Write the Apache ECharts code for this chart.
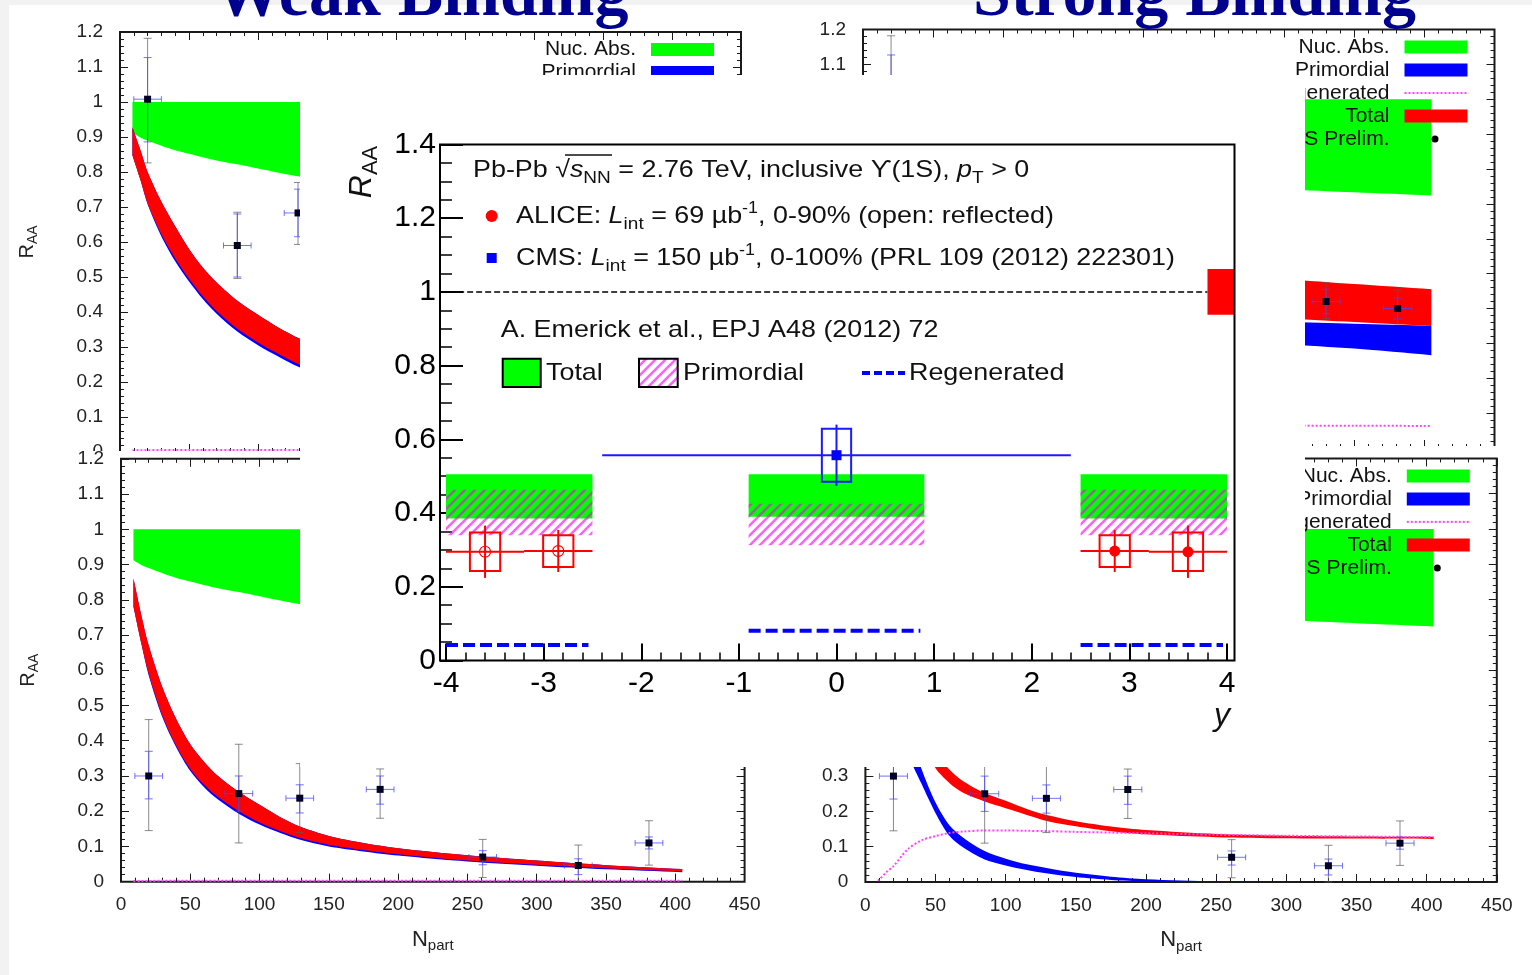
<!DOCTYPE html>
<html>
<head>
<meta charset="utf-8">
<title>Upsilon R_AA</title>
<script src="https://cdn.jsdelivr.net/npm/echarts@6.0.0/dist/echarts.min.js"></script>
<style>
  html, body { margin:0; padding:0; }
  body { width:1532px; height:975px; background:#f2f2f2; position:relative; overflow:hidden; }
  .pane { position:absolute; background:#ffffff; }
</style>
</head>
<body>
<div id="tl" class="pane" style="left:9px;top:5px;width:741px;height:446px;"></div>
<div id="tr" class="pane" style="left:750px;top:5px;width:782px;height:441px;"></div>
<div id="bl" class="pane" style="left:9px;top:451px;width:761px;height:524px;"></div>
<div id="br" class="pane" style="left:770px;top:446px;width:762px;height:529px;"></div>
<div id="ttl" style="position:absolute;left:0;top:0;width:1532px;height:40px;"></div>
<div id="inset" class="pane" style="left:300px;top:75px;width:1005px;height:692px;"></div>
<script>
const FONT = '"Liberation Sans", Arial, Helvetica, sans-serif';
const SERIF = '"Liberation Serif", "Times New Roman", serif';

// ================= DATA: background panels (R_AA vs N_part) =================
const nRange = [0, 450];
const nStep = 50;
const raaRange = [0, 1.2];
const raaStep = 0.1;

const nGrid = [9, 15, 20, 30, 40, 50, 60, 70, 85, 100, 115, 130, 150, 175, 200, 250, 300, 350, 405];
const nucAbsLo = [0.912, 0.898, 0.89, 0.875, 0.862, 0.852, 0.842, 0.833, 0.822, 0.81, 0.798, 0.787, 0.78, 0.772, 0.765, 0.752, 0.742, 0.733, 0.724];
const nucAbsHi = [1, 1, 1, 1, 1, 1, 1, 1, 1, 1, 1, 1, 1, 1, 1, 1, 1, 1, 1];

// weak binding, upper panel
const weak1TotHi = [0.928, 0.86, 0.80, 0.715, 0.645, 0.58, 0.527, 0.484, 0.432, 0.392, 0.355, 0.324, 0.29, 0.26, 0.235, 0.195, 0.165, 0.145, 0.125];
const weak1TotLo = [0.848, 0.775, 0.71, 0.622, 0.553, 0.495, 0.445, 0.403, 0.352, 0.313, 0.28, 0.25, 0.22, 0.19, 0.17, 0.14, 0.12, 0.105, 0.09];
const weak1PrimLo = [0.848, 0.775, 0.708, 0.616, 0.545, 0.487, 0.437, 0.395, 0.344, 0.305, 0.272, 0.242, 0.212, 0.183, 0.163, 0.134, 0.114, 0.1, 0.085];
const weak1Regen = [0.004, 0.005, 0.005, 0.006, 0.006, 0.006, 0.006, 0.006, 0.006, 0.006, 0.006, 0.006, 0.006, 0.006, 0.006, 0.006, 0.006, 0.006, 0.006];

// weak binding, lower panel
const weak2TotHi = [0.86, 0.75, 0.67, 0.55, 0.46, 0.39, 0.34, 0.30, 0.255, 0.218, 0.183, 0.155, 0.13, 0.11, 0.095, 0.075, 0.06, 0.047, 0.036];
const weak2TotLo = [0.78, 0.67, 0.59, 0.47, 0.385, 0.32, 0.275, 0.24, 0.20, 0.168, 0.143, 0.123, 0.105, 0.09, 0.078, 0.06, 0.048, 0.038, 0.029];
const weak2PrimLo = [0.78, 0.67, 0.585, 0.465, 0.38, 0.314, 0.268, 0.233, 0.193, 0.162, 0.138, 0.118, 0.1, 0.086, 0.074, 0.057, 0.045, 0.035, 0.027];
const weak2Regen = [0.002, 0.002, 0.002, 0.003, 0.003, 0.003, 0.003, 0.003, 0.003, 0.003, 0.003, 0.003, 0.003, 0.003, 0.003, 0.003, 0.003, 0.003, 0.003];

// strong binding, upper panel
const strong1TotHi = [0.94, 0.88, 0.84, 0.76, 0.70, 0.66, 0.62, 0.60, 0.575, 0.555, 0.54, 0.53, 0.52, 0.51, 0.503, 0.492, 0.484, 0.47, 0.455];
const strong1TotLo = [0.86, 0.79, 0.74, 0.66, 0.60, 0.55, 0.515, 0.49, 0.465, 0.445, 0.43, 0.42, 0.41, 0.40, 0.393, 0.38, 0.371, 0.361, 0.35];
const strong1PrimHi = [0.93, 0.86, 0.80, 0.70, 0.63, 0.58, 0.54, 0.51, 0.475, 0.45, 0.43, 0.415, 0.40, 0.39, 0.38, 0.37, 0.362, 0.356, 0.35];
const strong1PrimLo = [0.86, 0.77, 0.71, 0.61, 0.54, 0.49, 0.45, 0.42, 0.39, 0.365, 0.35, 0.335, 0.325, 0.315, 0.31, 0.303, 0.297, 0.285, 0.266];
const strong1Regen = [0.0, 0.015, 0.025, 0.04, 0.05, 0.057, 0.06, 0.062, 0.064, 0.065, 0.066, 0.066, 0.066, 0.065, 0.065, 0.064, 0.064, 0.064, 0.063];

// strong binding, lower panel
const strong2TotHi = [0.95, 0.86, 0.78, 0.60, 0.47, 0.375, 0.318, 0.285, 0.252, 0.23, 0.207, 0.189, 0.172, 0.157, 0.147, 0.136, 0.131, 0.129, 0.128];
const strong2TotLo = [0.88, 0.77, 0.69, 0.52, 0.40, 0.322, 0.28, 0.252, 0.228, 0.209, 0.19, 0.172, 0.158, 0.144, 0.135, 0.127, 0.124, 0.123, 0.122];
const strong2PrimHi = [0.93, 0.75, 0.64, 0.44, 0.32, 0.225, 0.16, 0.125, 0.088, 0.066, 0.05, 0.039, 0.026, 0.015, 0.008, 0.002, 0, 0, 0];
const strong2PrimLo = [0.86, 0.66, 0.55, 0.37, 0.278, 0.195, 0.13, 0.097, 0.064, 0.047, 0.034, 0.024, 0.014, 0.006, 0.002, 0, 0, 0, 0];
const strong2Regen = [0.003, 0.028, 0.045, 0.092, 0.118, 0.13, 0.139, 0.143, 0.146, 0.146, 0.145, 0.144, 0.142, 0.14, 0.138, 0.134, 0.131, 0.129, 0.127];

// CMS preliminary points
const ptN = [20, 85, 129, 187, 261, 330, 381];
const ptNErr = [10, 10, 10, 10, 10, 10, 10];
const up1R = [1.008, 0.59, 0.683, 0.60, 0.50, 0.42, 0.40];
const up1StatLo = [0.886, 0.50, 0.615, 0.54, 0.45, 0.385, 0.37];
const up1StatHi = [1.127, 0.68, 0.751, 0.66, 0.55, 0.455, 0.43];
const up1SysLo = [0.826, 0.496, 0.593, 0.50, 0.41, 0.371, 0.356];
const up1SysHi = [1.182, 0.685, 0.77, 0.70, 0.59, 0.474, 0.453];
const low2R = [0.30, 0.25, 0.237, 0.262, 0.07, 0.046, 0.11];
const low2StatLo = [0.235, 0.20, 0.195, 0.22, 0.048, 0.02, 0.093];
const low2StatHi = [0.37, 0.30, 0.275, 0.30, 0.088, 0.065, 0.127];
const low2SysLo = [0.145, 0.11, 0.14, 0.18, 0.012, 0.0, 0.047];
const low2SysHi = [0.46, 0.39, 0.335, 0.32, 0.12, 0.104, 0.173];

const legendLabels = ['Nuc. Abs.', 'Primordial', 'Regenerated', 'Total', 'CMS Prelim.'];

// ================= DATA: inset (R_AA vs y) =================
const yRange = [-4, 4];
const raaInsetRange = [0, 1.4];
const binLo = [-4.0, -0.9, 2.5];
const binHi = [-2.5, 0.9, 4.0];
const modTotLo = [0.385, 0.39, 0.385];
const modTotHi = [0.505, 0.505, 0.505];
const modPrimLo = [0.34, 0.313, 0.34];
const modPrimHi = [0.463, 0.425, 0.463];
const modRegen = [0.042, 0.081, 0.042];
const aliceY = [-3.6, -2.85, 2.85, 3.6];
const aliceYLo = [-4.0, -3.2, 2.5, 3.2];
const aliceYHi = [-3.2, -2.5, 3.2, 4.0];
const aliceR = [0.295, 0.297, 0.297, 0.295];
const aliceStat = [0.071, 0.057, 0.057, 0.071];
const aliceSyst = [0.052, 0.043, 0.043, 0.052];
const aliceReflected = [1, 1, 0, 0];
const cmsY = [0];
const cmsYErr = [2.4];
const cmsR = [0.557];
const cmsStat = [0.083];
const cmsSyst = [0.072];
const globalUnc = [0.062];

// ================= helpers =================
const AX = '#1a1a1a';
function bandSeries(lo, hi, color) {
  return {
    type: 'custom', silent: true, z: 2,
    data: [[nGrid[0], lo[0]]],
    renderItem: (params, api) => {
      const last = nGrid.length - 1;
      const pts = [];
      pts.push(api.coord([nGrid[0], hi[0]]));
      for (let i = 0; i <= last; i++) pts.push(api.coord([nGrid[i], hi[i]]));
      pts.push(api.coord([nGrid[last], hi[last]]));
      pts.push(api.coord([nGrid[last], lo[last]]));
      for (let i = last; i >= 0; i--) pts.push(api.coord([nGrid[i], lo[i]]));
      pts.push(api.coord([nGrid[0], lo[0]]));
      return { type: 'polygon', shape: { points: pts, smooth: 0.3 }, style: { fill: color } };
    }
  };
}
function seg(x1, y1, x2, y2, st) {
  return { type: 'line', shape: { x1, y1, x2, y2 }, style: st };
}
function pointSeries(R, sysLo, sysHi, stLo, stHi) {
  return {
    type: 'custom', silent: true, z: 6,
    data: ptN.map((n, i) => [n, R[i], sysLo[i], sysHi[i], stLo[i], stHi[i], ptNErr[i]]),
    renderItem: (params, api) => {
      const n = api.value(0), r = api.value(1);
      const c = api.coord([n, r]);
      const a = api.coord([n, api.value(2)]), b = api.coord([n, api.value(3)]);
      const s1 = api.coord([n, api.value(4)]), s2 = api.coord([n, api.value(5)]);
      const xl = api.coord([n - api.value(6), r]), xr = api.coord([n + api.value(6), r]);
      const gray = { stroke: 'rgba(90,90,90,0.7)', lineWidth: 1 };
      const blue = { stroke: 'rgba(70,70,255,0.75)', lineWidth: 1 };
      return { type: 'group', children: [
        seg(c[0], a[1], c[0], b[1], gray),
        seg(c[0] - 4, a[1], c[0] + 4, a[1], gray),
        seg(c[0] - 4, b[1], c[0] + 4, b[1], gray),
        seg(c[0], s1[1], c[0], s2[1], blue),
        seg(c[0] - 4, s1[1], c[0] + 4, s1[1], blue),
        seg(c[0] - 4, s2[1], c[0] + 4, s2[1], blue),
        seg(xl[0], c[1], xr[0], c[1], blue),
        seg(xl[0], c[1] - 3, xl[0], c[1] + 3, blue),
        seg(xr[0], c[1] - 3, xr[0], c[1] + 3, blue),
        { type: 'rect', shape: { x: c[0] - 3.5, y: c[1] - 3.5, width: 7, height: 7 }, style: { fill: '#000022' } }
      ] };
    }
  };
}
function axisPair(isX, showLabels) {
  const base = {
    type: 'value',
    min: isX ? nRange[0] : raaRange[0], max: isX ? nRange[1] : raaRange[1],
    interval: isX ? nStep : raaStep,
    axisLine: { show: false, onZero: false },
    axisTick: { show: true, inside: true, length: 8, lineStyle: { color: AX, width: 1 } },
    minorTick: { show: true, splitNumber: 5, length: 4, lineStyle: { color: AX, width: 1 } },
    splitLine: { show: false }, minorSplitLine: { show: false }
  };
  const a = Object.assign({}, base, {
    position: isX ? 'bottom' : 'left',
    axisLabel: { show: showLabels, fontSize: 19, fontFamily: FONT, color: '#222', margin: isX ? 14 : 17,
      formatter: v => String(+v.toFixed(1)) }
  });
  const b = Object.assign({}, base, { position: isX ? 'top' : 'right', axisLabel: { show: false } });
  return [a, b];
}
function richTitle(main, subTxt, f, fs, pad) {
  return {
    text: '{m|' + main + '}{s|' + subTxt + '}',
    rich: { m: { fontSize: f, fontFamily: FONT, fill: '#222' }, s: { fontSize: fs, fontFamily: FONT, fill: '#222', padding: [pad, 0, 0, 0] } },
    align: 'center', verticalAlign: 'middle'
  };
}
function panelOption(g, tot, prim, regen, pts) {
  const right = g.left + g.width, top = g.top;
  const legendEls = [];
  legendLabels.forEach((lab, i) => {
    const cy = top + 17.5 + i * 23;
    legendEls.push({ type: 'text', x: right - 105, y: cy, z: 100, style: { text: lab, fontSize: 21, fontFamily: FONT, fill: '#111', align: 'right', verticalAlign: 'middle' } });
    if (i === 0 || i === 1 || i === 3) {
      legendEls.push({ type: 'rect', z: 100, shape: { x: right - 90, y: cy - 6.5, width: 63, height: 13 }, style: { fill: ['#00ff00', '#0000ff', '', '#ff0000'][i] } });
    } else if (i === 2) {
      legendEls.push({ type: 'line', z: 100, shape: { x1: right - 90, y1: cy, x2: right - 27, y2: cy }, style: { stroke: '#ff44ff', lineWidth: 2, lineDash: [2, 2] } });
    } else {
      legendEls.push({ type: 'circle', z: 100, shape: { cx: right - 59.5, cy: cy, r: 3.5 }, style: { fill: '#000' } });
    }
  });
  legendEls.push({ type: 'text', x: g.left - 93, y: g.top + g.height / 2, rotation: Math.PI / 2, z: 100, style: richTitle('R', 'AA', 20, 14, 12) });
  legendEls.push({ type: 'text', x: g.left + g.width / 2, y: g.top + g.height + 58, z: 100, style: richTitle('N', 'part', 22, 15, 13) });
  const xa = axisPair(true, true), ya = axisPair(false, true);
  return {
    animation: false,
    grid: { left: g.left, top: g.top, width: g.width, height: g.height, show: true, borderColor: AX, borderWidth: 2, backgroundColor: 'transparent', outerBoundsMode: 'none' },
    xAxis: xa, yAxis: ya,
    series: [
      bandSeries(nucAbsLo, nucAbsHi, '#00ff00'),
      bandSeries(prim[0], prim[1], '#0000ff'),
      bandSeries(tot[0], tot[1], '#ff0000'),
      { type: 'line', silent: true, z: 4, symbol: 'none', smooth: 0.3, data: nGrid.map((n, i) => [n, regen[i]]),
        lineStyle: { color: '#ff44ff', width: 2, type: [2, 2] } },
      pointSeries(pts[0], pts[1], pts[2], pts[3], pts[4])
    ],
    graphic: legendEls
  };
}

// ================= background panels =================
echarts.init(document.getElementById('tl')).setOption(panelOption(
  { left: 111, top: 27, width: 621, height: 420 },
  [weak1TotLo, weak1TotHi], [weak1PrimLo, weak1TotHi], weak1Regen,
  [up1R, up1SysLo, up1SysHi, up1StatLo, up1StatHi]));
echarts.init(document.getElementById('tr')).setOption(panelOption(
  { left: 113, top: 24.5, width: 631.5, height: 418.5 },
  [strong1TotLo, strong1TotHi], [strong1PrimLo, strong1PrimHi], strong1Regen,
  [up1R, up1SysLo, up1SysHi, up1StatLo, up1StatHi]));
echarts.init(document.getElementById('bl')).setOption(panelOption(
  { left: 112, top: 7.8, width: 623.6, height: 422.9 },
  [weak2TotLo, weak2TotHi], [weak2PrimLo, weak2TotHi], weak2Regen,
  [low2R, low2SysLo, low2SysHi, low2StatLo, low2StatHi]));
echarts.init(document.getElementById('br')).setOption(panelOption(
  { left: 95.4, top: 12.4, width: 631.4, height: 423.6 },
  [strong2TotLo, strong2TotHi], [strong2PrimLo, strong2PrimHi], strong2Regen,
  [low2R, low2SysLo, low2SysHi, low2StatLo, low2StatHi]));

// ================= titles =================
echarts.init(document.getElementById('ttl')).setOption({
  animation: false,
  graphic: [
    { type: 'text', x: 421.5, y: -3, style: { text: 'Weak Binding', fontSize: 68, fontWeight: 'bold', fontFamily: SERIF, fill: '#00008f', align: 'center', verticalAlign: 'middle' } },
    { type: 'text', x: 1194.5, y: -3, style: { text: 'Strong Binding', fontSize: 68, fontWeight: 'bold', fontFamily: SERIF, fill: '#00008f', align: 'center', verticalAlign: 'middle' } }
  ]
});

// ================= inset =================
function makeHatch() {
  const c = document.createElement('canvas');
  c.width = 10; c.height = 10;
  const g = c.getContext('2d');
  g.strokeStyle = 'rgba(255,0,255,0.62)';
  g.lineWidth = 2.6;
  g.beginPath();
  g.moveTo(-2, 12); g.lineTo(12, -2);
  g.moveTo(-2, 2); g.lineTo(2, -2);
  g.moveTo(8, 12); g.lineTo(12, 8);
  g.stroke();
  return c;
}
const hatch = { image: makeHatch(), repeat: 'repeat' };

function binRect(colorStyle) {
  return (params, api) => {
    const a = api.coord([api.value(0), api.value(3)]);
    const b = api.coord([api.value(1), api.value(2)]);
    return { type: 'rect', shape: { x: a[0], y: a[1], width: b[0] - a[0], height: b[1] - a[1] }, style: colorStyle };
  };
}
const RED = '#ff0000', BLUE = '#0000ff';
const TXT = 24;
const SX = 1.12;
const rich = {
  n: { fontSize: TXT, fontFamily: FONT, fill: '#111' },
  i: { fontSize: TXT, fontFamily: FONT, fontStyle: 'italic', fill: '#111' },
  s: { fontSize: 17, fontFamily: FONT, fill: '#111', padding: [16, 0, 0, 0] },
  p: { fontSize: 16, fontFamily: FONT, fill: '#111', padding: [0, 0, 14, 0] }
};

const inset = echarts.init(document.getElementById('inset'));
inset.setOption({
  animation: false,
  grid: { left: 146, top: 69.5, width: 781, height: 516, outerBoundsMode: 'none' },
  xAxis: {
    type: 'value', min: yRange[0], max: yRange[1], interval: 1,
    axisLine: { show: false, onZero: false },
    axisTick: { show: true, inside: true, length: 17, lineStyle: { color: '#000', width: 2 } },
    minorTick: { show: true, splitNumber: 5, length: 8, lineStyle: { color: '#000', width: 1.5 } },
    splitLine: { show: false },
    axisLabel: { fontSize: 30, fontFamily: FONT, color: '#000', margin: 8 }
  },
  yAxis: {
    type: 'value', min: raaInsetRange[0], max: raaInsetRange[1], interval: 0.2, offset: 6,
    axisLine: { show: false, onZero: false },
    axisTick: { show: true, inside: true, length: 23, lineStyle: { color: '#000', width: 2 } },
    minorTick: { show: true, splitNumber: 4, length: 12, lineStyle: { color: '#000', width: 1.5 } },
    splitLine: { show: false },
    axisLabel: { fontSize: 30, fontFamily: FONT, color: '#000', margin: 4, formatter: v => String(+v.toFixed(1)) }
  },
  series: [
    { type: 'custom', name: 'Total', silent: true, z: 2, encode: { x: [0, 1], y: [2, 3] },
      data: binLo.map((b, i) => [b, binHi[i], modTotLo[i], modTotHi[i]]),
      renderItem: binRect({ fill: '#00ff00' }) },
    { type: 'custom', name: 'Primordial', silent: true, z: 3, encode: { x: [0, 1], y: [2, 3] },
      data: binLo.map((b, i) => [b, binHi[i], modPrimLo[i], modPrimHi[i]]),
      renderItem: binRect({ fill: hatch }) },
    { type: 'custom', name: 'Regenerated', silent: true, z: 4, encode: { x: [0, 1], y: 2 },
      data: binLo.map((b, i) => [b, binHi[i], modRegen[i]]),
      renderItem: (params, api) => {
        const a = api.coord([api.value(0), api.value(2)]), b = api.coord([api.value(1), api.value(2)]);
        return seg(a[0], a[1], b[0] - 4, b[1], { stroke: BLUE, lineWidth: 4, lineDash: [12, 5] });
      } },
    { type: 'custom', silent: true, z: 4, encode: { x: [0, 1], y: 2 },
      data: [[-4.06, 3.8, 1]],
      renderItem: (params, api) => {
        const a = api.coord([api.value(0), api.value(2)]), b = api.coord([api.value(1), api.value(2)]);
        return seg(a[0], a[1], b[0], b[1], { stroke: '#000', lineWidth: 1.5, lineDash: [6, 3] });
      } },
    { type: 'custom', silent: true, z: 4, encode: { x: 0, y: 1 },
      data: [[3.8, 1, globalUnc[0]]],
      renderItem: (params, api) => {
        const a = api.coord([api.value(0), api.value(1) + api.value(2)]);
        const b = api.coord([4.08, api.value(1) - api.value(2)]);
        return { type: 'rect', shape: { x: a[0], y: a[1], width: b[0] - a[0], height: b[1] - a[1] }, style: { fill: RED } };
      } },
    { type: 'custom', name: 'CMS', silent: true, z: 6, encode: { x: 0, y: 1 },
      data: cmsY.map((y, i) => [y, cmsR[i], cmsYErr[i], cmsStat[i], cmsSyst[i]]),
      renderItem: (params, api) => {
        const y = api.value(0), r = api.value(1);
        const c = api.coord([y, r]);
        const l = api.coord([y - api.value(2), r]), h = api.coord([y + api.value(2), r]);
        const s1 = api.coord([y, r + api.value(3)]), s2 = api.coord([y, r - api.value(3)]);
        const b1 = api.coord([y - 0.15, r + api.value(4)]), b2 = api.coord([y + 0.15, r - api.value(4)]);
        const st = { stroke: '#1a1aff', lineWidth: 2 };
        return { type: 'group', children: [
          seg(l[0], c[1], h[0], c[1], st),
          seg(c[0], s1[1], c[0], s2[1], st),
          { type: 'rect', shape: { x: b1[0], y: b1[1], width: b2[0] - b1[0], height: b2[1] - b1[1] }, style: { fill: 'none', stroke: '#1a1aff', lineWidth: 2 } },
          { type: 'rect', shape: { x: c[0] - 5, y: c[1] - 5, width: 10, height: 10 }, style: { fill: BLUE } }
        ] };
      } },
    { type: 'custom', name: 'ALICE', silent: true, z: 6, encode: { x: 0, y: 1 },
      data: aliceY.map((y, i) => [y, aliceR[i], aliceYLo[i], aliceYHi[i], aliceStat[i], aliceSyst[i], aliceReflected[i]]),
      renderItem: (params, api) => {
        const y = api.value(0), r = api.value(1);
        const c = api.coord([y, r]);
        const l = api.coord([api.value(2), r]), h = api.coord([api.value(3), r]);
        const s1 = api.coord([y, r + api.value(4)]), s2 = api.coord([y, r - api.value(4)]);
        const b1 = api.coord([y - 0.155, r + api.value(5)]), b2 = api.coord([y + 0.155, r - api.value(5)]);
        const st = { stroke: RED, lineWidth: 2 };
        const open = api.value(6) === 1;
        return { type: 'group', children: [
          seg(l[0], c[1], h[0], c[1], st),
          seg(c[0], s1[1], c[0], s2[1], st),
          { type: 'rect', shape: { x: b1[0], y: b1[1], width: b2[0] - b1[0], height: b2[1] - b1[1] }, style: { fill: 'none', stroke: RED, lineWidth: 2 } },
          { type: 'circle', shape: { cx: c[0], cy: c[1], r: 5.5 }, style: open ? { fill: 'none', stroke: RED, lineWidth: 1.2 } : { fill: RED } }
        ] };
      } }
  ],
  graphic: [
    { type: 'rect', z: 50, silent: true, shape: { x: 140, y: 69.5, width: 794.5, height: 516 }, style: { fill: 'none', stroke: '#000', lineWidth: 2 } },
    { type: 'text', z: 60, x: 173, y: 95, scaleX: SX, style: { text: '{n|Pb-Pb }{n|√}{i|s}{s|NN}{n| = 2.76 TeV, inclusive ϒ(1S), }{i|p}{s|T}{n| > 0}', rich, align: 'left', verticalAlign: 'middle' } },
    { type: 'line', z: 60, shape: { x1: 265, y1: 80, x2: 312, y2: 80 }, style: { stroke: '#111', lineWidth: 1.5 } },
    { type: 'circle', z: 60, shape: { cx: 191.7, cy: 141, r: 6 }, style: { fill: RED } },
    { type: 'text', z: 60, x: 216, y: 141, scaleX: SX, style: { text: '{n|ALICE: }{i|L}{s|int}{n| = 69 µb}{p|-1}{n|, 0-90% (open: reflected)}', rich, align: 'left', verticalAlign: 'middle' } },
    { type: 'rect', z: 60, shape: { x: 186.7, y: 178, width: 10, height: 10 }, style: { fill: BLUE } },
    { type: 'text', z: 60, x: 216, y: 183, scaleX: SX, style: { text: '{n|CMS: }{i|L}{s|int}{n| = 150 µb}{p|-1}{n|, 0-100% (PRL 109 (2012) 222301)}', rich, align: 'left', verticalAlign: 'middle' } },
    { type: 'text', z: 60, x: 200.7, y: 255, scaleX: SX, style: { text: 'A. Emerick et al., EPJ A48 (2012) 72', fontSize: TXT, fontFamily: FONT, fill: '#111', align: 'left', verticalAlign: 'middle' } },
    { type: 'rect', z: 60, shape: { x: 202.7, y: 283.7, width: 38, height: 28.3 }, style: { fill: '#00ff00', stroke: '#000', lineWidth: 2 } },
    { type: 'text', z: 60, x: 246, y: 298, scaleX: SX, style: { text: 'Total', fontSize: TXT, fontFamily: FONT, fill: '#111', align: 'left', verticalAlign: 'middle' } },
    { type: 'rect', z: 60, shape: { x: 339, y: 283.7, width: 38.7, height: 28.3 }, style: { fill: hatch, stroke: '#000', lineWidth: 2 } },
    { type: 'text', z: 60, x: 383, y: 298, scaleX: SX, style: { text: 'Primordial', fontSize: TXT, fontFamily: FONT, fill: '#111', align: 'left', verticalAlign: 'middle' } },
    { type: 'line', z: 60, shape: { x1: 562, y1: 298, x2: 605, y2: 298 }, style: { stroke: BLUE, lineWidth: 4, lineDash: [8, 4] } },
    { type: 'text', z: 60, x: 609, y: 298, scaleX: SX, style: { text: 'Regenerated', fontSize: TXT, fontFamily: FONT, fill: '#111', align: 'left', verticalAlign: 'middle' } },
    { type: 'text', z: 60, x: 62, y: 97, rotation: Math.PI / 2, style: {
      text: '{r|R}{a|AA}', align: 'center', verticalAlign: 'middle',
      rich: { r: { fontSize: 32, fontFamily: FONT, fontStyle: 'italic', fill: '#111' }, a: { fontSize: 22, fontFamily: FONT, fill: '#111', padding: [18, 0, 0, 0] } } } },
    { type: 'text', z: 60, x: 922, y: 641, style: { text: 'y', fontSize: 32, fontStyle: 'italic', fontFamily: FONT, fill: '#111', align: 'center', verticalAlign: 'middle' } }
  ]
});
</script>
</body>
</html>
